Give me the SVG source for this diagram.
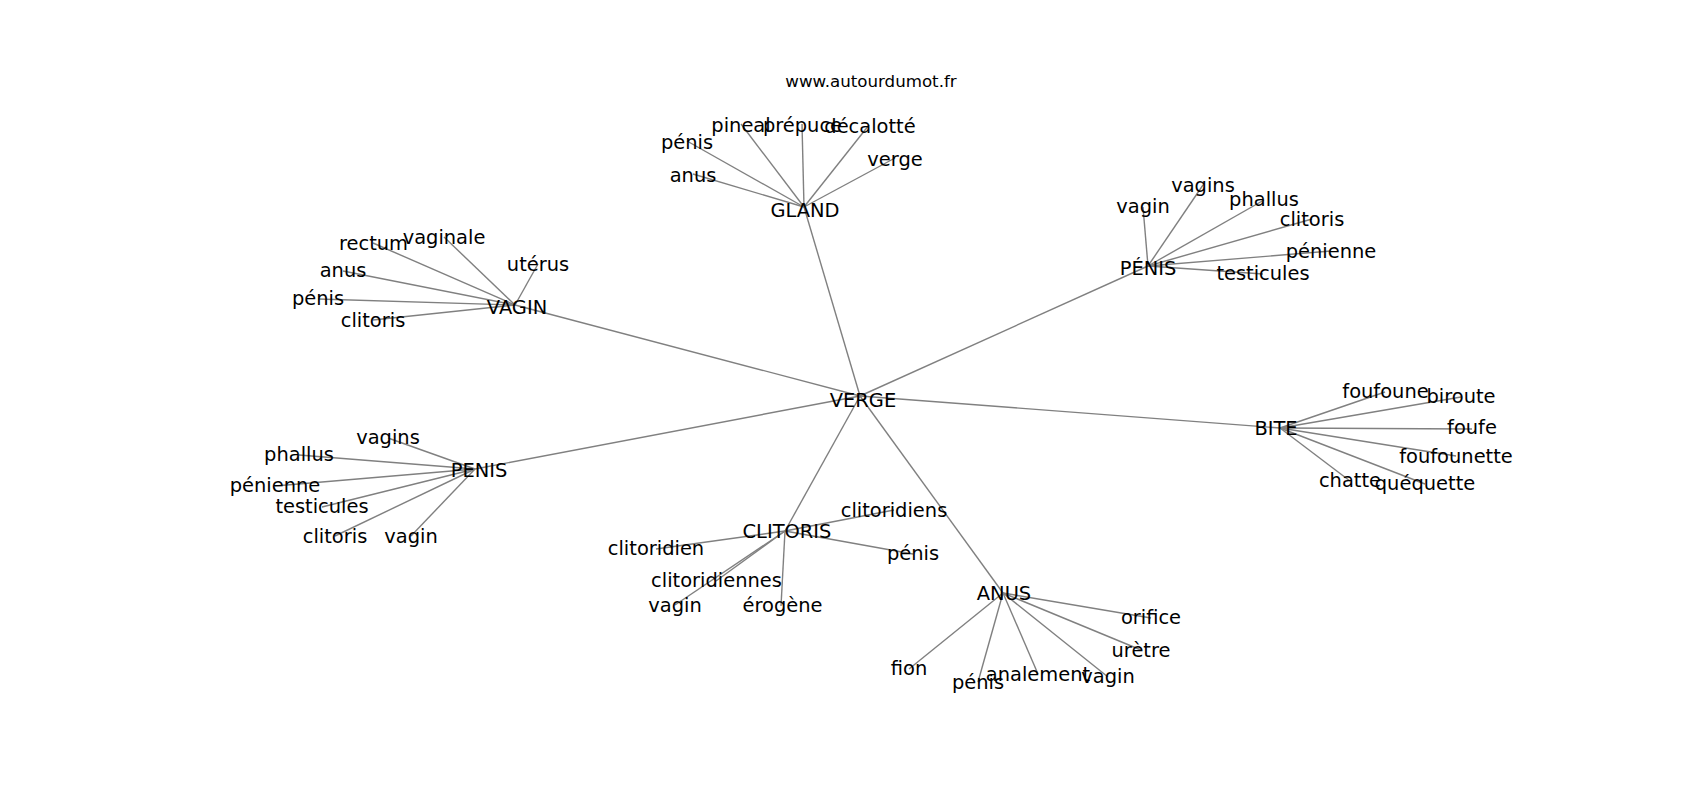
<svg xmlns="http://www.w3.org/2000/svg" width="1700" height="800" viewBox="0 0 1700 800">
<style>
.e{stroke:#808080;stroke-width:1.4;fill:none}
text{font-family:"DejaVu Sans","Liberation Sans",sans-serif;font-size:19.44px;fill:#000;text-anchor:middle}
text.t{font-size:16.67px}
</style>
<rect width="1700" height="800" fill="#fff"/>
<text class="t" x="871" y="87">www.autourdumot.fr</text>
<g id="connectors">
<line class="e" x1="860" y1="396" x2="804" y2="207"/>
<line class="e" x1="860" y1="396" x2="515" y2="305"/>
<line class="e" x1="860" y1="396" x2="1148" y2="266"/>
<line class="e" x1="860" y1="396" x2="1280" y2="428"/>
<line class="e" x1="860" y1="396" x2="475" y2="469"/>
<line class="e" x1="860" y1="396" x2="785" y2="531"/>
<line class="e" x1="860" y1="396" x2="1003" y2="593"/>
<line class="e" x1="804" y1="207" x2="741" y2="124"/>
<line class="e" x1="804" y1="207" x2="802" y2="124"/>
<line class="e" x1="804" y1="207" x2="869" y2="125"/>
<line class="e" x1="804" y1="207" x2="687" y2="141"/>
<line class="e" x1="804" y1="207" x2="693" y2="174"/>
<line class="e" x1="804" y1="207" x2="895" y2="158"/>
<line class="e" x1="515" y1="305" x2="373" y2="243"/>
<line class="e" x1="515" y1="305" x2="444" y2="237"/>
<line class="e" x1="515" y1="305" x2="538" y2="264"/>
<line class="e" x1="515" y1="305" x2="343" y2="271"/>
<line class="e" x1="515" y1="305" x2="318" y2="299"/>
<line class="e" x1="515" y1="305" x2="373" y2="320"/>
<line class="e" x1="1148" y1="266" x2="1143" y2="207"/>
<line class="e" x1="1148" y1="266" x2="1203" y2="185"/>
<line class="e" x1="1148" y1="266" x2="1264" y2="200"/>
<line class="e" x1="1148" y1="266" x2="1312" y2="219"/>
<line class="e" x1="1148" y1="266" x2="1331" y2="251"/>
<line class="e" x1="1148" y1="266" x2="1263" y2="274"/>
<line class="e" x1="1280" y1="428" x2="1385" y2="392"/>
<line class="e" x1="1280" y1="428" x2="1461" y2="397"/>
<line class="e" x1="1280" y1="428" x2="1472" y2="429"/>
<line class="e" x1="1280" y1="428" x2="1456" y2="456"/>
<line class="e" x1="1280" y1="428" x2="1350" y2="481"/>
<line class="e" x1="1280" y1="428" x2="1425" y2="484"/>
<line class="e" x1="475" y1="469" x2="388" y2="438"/>
<line class="e" x1="475" y1="469" x2="299" y2="455"/>
<line class="e" x1="475" y1="469" x2="275" y2="486"/>
<line class="e" x1="475" y1="469" x2="322" y2="507"/>
<line class="e" x1="475" y1="469" x2="335" y2="536"/>
<line class="e" x1="475" y1="469" x2="411" y2="536"/>
<line class="e" x1="785" y1="531" x2="894" y2="510"/>
<line class="e" x1="785" y1="531" x2="656" y2="549"/>
<line class="e" x1="785" y1="531" x2="913" y2="554"/>
<line class="e" x1="785" y1="531" x2="716" y2="581"/>
<line class="e" x1="785" y1="531" x2="675" y2="605"/>
<line class="e" x1="785" y1="531" x2="781" y2="606"/>
<line class="e" x1="1003" y1="593" x2="1151" y2="618"/>
<line class="e" x1="1003" y1="593" x2="1141" y2="650"/>
<line class="e" x1="1003" y1="593" x2="1108" y2="677"/>
<line class="e" x1="1003" y1="593" x2="1038" y2="674"/>
<line class="e" x1="1003" y1="593" x2="978" y2="682"/>
<line class="e" x1="1003" y1="593" x2="909" y2="669"/>
</g>
<g id="n-verge"><text x="863" y="407">VERGE</text></g>
<g id="n-gland"><text x="805" y="217">GLAND</text></g>
<g id="n-gland-pineal"><text x="741" y="132">pineal</text></g>
<g id="n-gland-prepuce"><text x="802.5" y="132">prépuce</text></g>
<g id="n-gland-decalotte"><text x="870" y="133">décalotté</text></g>
<g id="n-gland-penis"><text x="687" y="149">pénis</text></g>
<g id="n-gland-anus"><text x="693" y="182">anus</text></g>
<g id="n-gland-verge"><text x="895" y="166">verge</text></g>
<g id="n-vagin"><text x="517" y="314">VAGIN</text></g>
<g id="n-vagin-rectum"><text x="373.5" y="250">rectum</text></g>
<g id="n-vagin-vaginale"><text x="444" y="244">vaginale</text></g>
<g id="n-vagin-uterus"><text x="538" y="271">utérus</text></g>
<g id="n-vagin-anus"><text x="343" y="277">anus</text></g>
<g id="n-vagin-penis"><text x="318" y="305">pénis</text></g>
<g id="n-vagin-clitoris"><text x="373" y="327">clitoris</text></g>
<g id="n-penis-acc"><text x="1148" y="275">PÉNIS</text></g>
<g id="n-penisacc-vagin"><text x="1143" y="213">vagin</text></g>
<g id="n-penisacc-vagins"><text x="1203" y="192">vagins</text></g>
<g id="n-penisacc-phallus"><text x="1264" y="206">phallus</text></g>
<g id="n-penisacc-clitoris"><text x="1312" y="226">clitoris</text></g>
<g id="n-penisacc-penienne"><text x="1331" y="258">pénienne</text></g>
<g id="n-penisacc-testicules"><text x="1263" y="280">testicules</text></g>
<g id="n-bite"><text x="1276" y="435">BITE</text></g>
<g id="n-bite-foufoune"><text x="1385.5" y="398">foufoune</text></g>
<g id="n-bite-biroute"><text x="1461" y="403">biroute</text></g>
<g id="n-bite-foufe"><text x="1472" y="434">foufe</text></g>
<g id="n-bite-foufounette"><text x="1456" y="463">foufounette</text></g>
<g id="n-bite-chatte"><text x="1350" y="487">chatte</text></g>
<g id="n-bite-quequette"><text x="1425" y="490">quéquette</text></g>
<g id="n-penis"><text x="479" y="477">PENIS</text></g>
<g id="n-penis-vagins"><text x="388" y="444">vagins</text></g>
<g id="n-penis-phallus"><text x="299" y="461">phallus</text></g>
<g id="n-penis-penienne"><text x="275" y="492">pénienne</text></g>
<g id="n-penis-testicules"><text x="322" y="513">testicules</text></g>
<g id="n-penis-clitoris"><text x="335" y="543">clitoris</text></g>
<g id="n-penis-vagin"><text x="411" y="543">vagin</text></g>
<g id="n-clitoris"><text x="787" y="538">CLITORIS</text></g>
<g id="n-clitoris-clitoridiens"><text x="894" y="517">clitoridiens</text></g>
<g id="n-clitoris-clitoridien"><text x="656" y="555">clitoridien</text></g>
<g id="n-clitoris-penis"><text x="913" y="560">pénis</text></g>
<g id="n-clitoris-clitoridiennes"><text x="716.5" y="587">clitoridiennes</text></g>
<g id="n-clitoris-vagin"><text x="675" y="612">vagin</text></g>
<g id="n-clitoris-erogene"><text x="782.5" y="612">érogène</text></g>
<g id="n-anus"><text x="1004" y="600">ANUS</text></g>
<g id="n-anus-orifice"><text x="1151" y="624">orifice</text></g>
<g id="n-anus-uretre"><text x="1141" y="657">urètre</text></g>
<g id="n-anus-vagin"><text x="1108" y="683">vagin</text></g>
<g id="n-anus-analement"><text x="1038" y="681">analement</text></g>
<g id="n-anus-penis"><text x="978" y="689">pénis</text></g>
<g id="n-anus-fion"><text x="909" y="675">fion</text></g>
</svg>
